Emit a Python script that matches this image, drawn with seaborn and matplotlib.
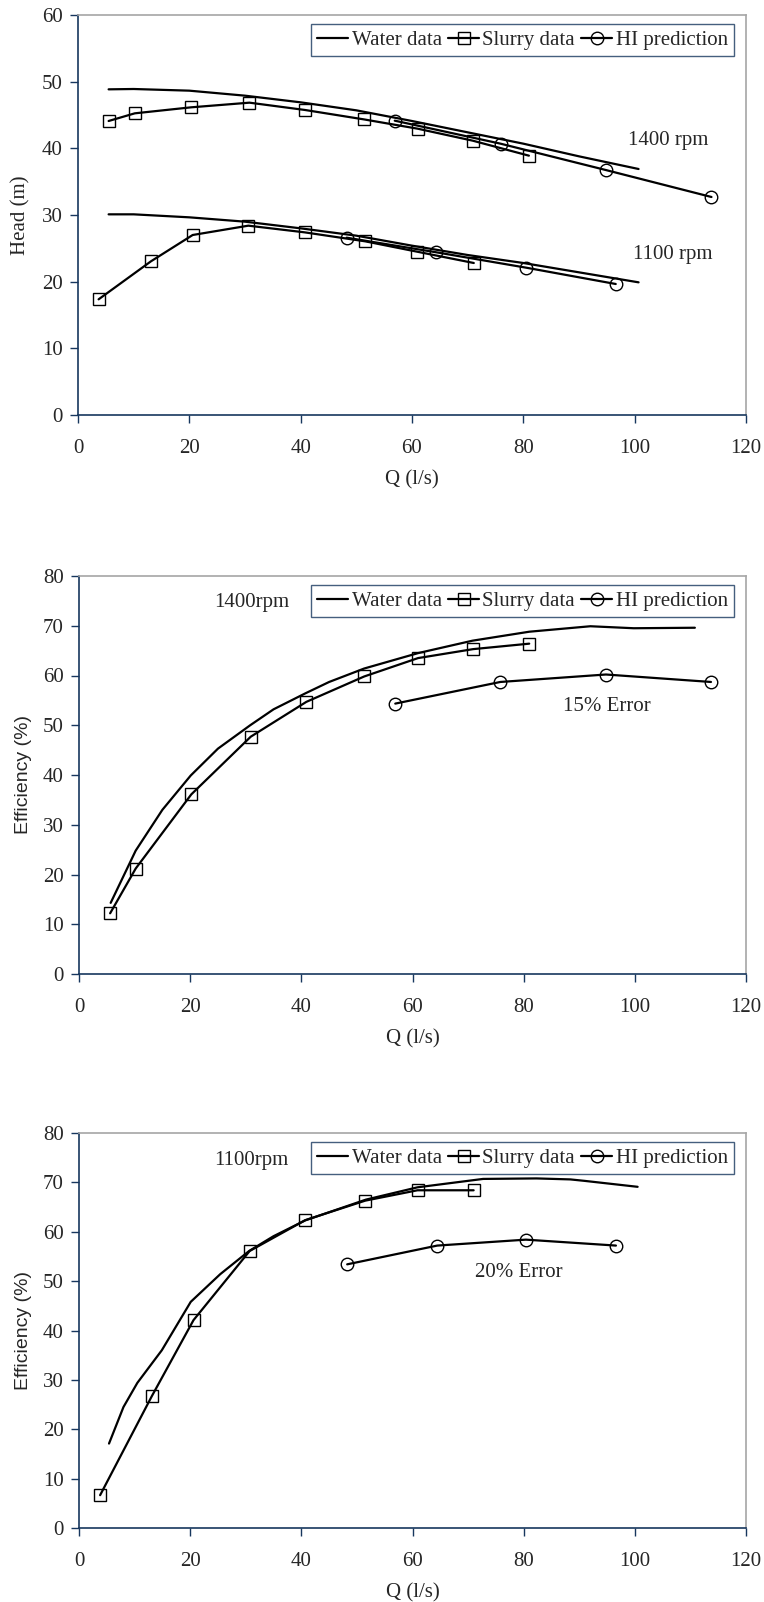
import matplotlib
matplotlib.use("Agg")
import matplotlib.pyplot as plt
import seaborn as sns
import pandas as pd
from matplotlib.lines import Line2D

# ---------------- data ----------------
# Panel 1: Head vs Q
q_water_1400 = [5.5, 10, 20, 30, 40, 50, 60, 70, 80, 90, 100.7]
h_water_1400 = [48.85, 48.9, 48.65, 47.9, 46.9, 45.7, 44.1, 42.4, 40.7, 38.8, 36.9]
q_slurry_1400 = [5.5, 10.2, 20.3, 30.8, 40.8, 51.3, 61.0, 70.9, 81.0]
h_slurry_1400 = [44.1, 45.25, 46.15, 46.85, 45.75, 44.35, 42.95, 41.15, 38.9]
q_hi_1400 = [56.9, 75.9, 94.8, 113.8]
h_hi_1400 = [44.15, 40.7, 36.75, 32.7]

q_water_1100 = [5.5, 10, 20, 30, 40, 50, 60, 70, 80, 90, 100.7]
h_water_1100 = [30.1, 30.1, 29.65, 29.0, 28.0, 26.9, 25.4, 24.0, 22.8, 21.4, 19.9]
q_slurry_1100 = [3.7, 13.1, 20.6, 30.6, 40.7, 51.6, 60.9, 71.1]
h_slurry_1100 = [17.35, 23.05, 27.0, 28.4, 27.4, 26.05, 24.5, 22.8]
q_hi_1100 = [48.25, 64.4, 80.5, 96.6]
h_hi_1100 = [26.6, 24.4, 22.1, 19.65]

# Panel 2: Efficiency at 1400 rpm
q_eff_water_1400 = [5.7, 10.2, 15, 20.1, 25, 30.8, 35, 40.7, 45, 51.3, 61.0, 70.8, 81.0, 92.0, 99.8, 110.8]
e_eff_water_1400 = [14.3, 24.8, 33.0, 39.9, 45.3, 50.0, 53.2, 56.4, 58.7, 61.4, 64.5, 67.0, 68.8, 69.9, 69.5, 69.6]
q_eff_slurry_1400 = [5.6, 10.2, 20.2, 30.9, 40.9, 51.3, 61.0, 70.9, 81.0]
e_eff_slurry_1400 = [12.2, 21.2, 36.1, 47.7, 54.7, 59.8, 63.5, 65.3, 66.4]
q_eff_hi_1400 = [56.9, 75.8, 94.8, 113.7]
e_eff_hi_1400 = [54.35, 58.7, 60.2, 58.7]

# Panel 3: Efficiency at 1100 rpm
q_eff_water_1100 = [5.4, 8, 10.5, 14.9, 20.1, 25.4, 30.6, 35.0, 40.7, 51.6, 60.9, 72.7, 82.3, 88.4, 91.0, 100.5]
e_eff_water_1100 = [17.1, 24.5, 29.4, 36.0, 45.8, 51.4, 56.1, 59.1, 62.3, 66.5, 69.0, 70.7, 70.8, 70.6, 70.3, 69.1]
q_eff_slurry_1100 = [3.8, 13.1, 20.6, 30.7, 40.7, 51.5, 60.9, 71.0]
e_eff_slurry_1100 = [6.65, 26.7, 42.1, 56.1, 62.35, 66.3, 68.4, 68.4]
q_eff_hi_1100 = [48.25, 64.45, 80.4, 96.6]
e_eff_hi_1100 = [53.4, 57.2, 58.4, 57.2]

legend_labels = ["Water data", "Slurry data", "HI prediction"]
x_ticks = [0, 20, 40, 60, 80, 100, 120]

# ---------------- style ----------------
sns.set_style("ticks")
plt.rcParams["font.family"] = ["Liberation Serif", "DejaVu Serif"]

NAVY = "#17375e"
GRAY = "#a6a6a6"
FS = 15

fig = plt.figure(figsize=(7.64, 16.02), dpi=100)
ax1 = fig.add_axes([78 / 764, 1 - 415 / 1602, 668 / 764, 400 / 1602])
ax2 = fig.add_axes([79 / 764, 1 - 974 / 1602, 667 / 764, 398 / 1602])
ax3 = fig.add_axes([79 / 764, 1 - 1528 / 1602, 667 / 764, 395 / 1602])

def draw(ax, q, v, kind):
    df = pd.DataFrame({"Q": q, "V": v})
    kw = dict(color="black", linewidth=1.6, ax=ax, legend=False, sort=False)
    if kind == "water":
        sns.lineplot(data=df, x="Q", y="V", **kw)
    elif kind == "slurry":
        sns.lineplot(data=df, x="Q", y="V", marker="s", markersize=9,
                     markerfacecolor="none", markeredgecolor="black",
                     markeredgewidth=1.0, **kw)
    else:
        sns.lineplot(data=df, x="Q", y="V", marker="o", markersize=9,
                     markerfacecolor="none", markeredgecolor="black",
                     markeredgewidth=1.0, **kw)

def style_axes(ax, ymax, ylabel, ylabel_family, ylabel_size):
    ax.set_xlim(0, 120)
    ax.set_ylim(0, ymax)
    ax.set_xticks(x_ticks)
    ax.set_yticks(list(range(0, ymax + 1, 10)))
    ax.tick_params(axis="both", direction="out", length=6, width=1,
                   color=NAVY, labelsize=FS)
    ax.tick_params(axis="x", pad=11)
    ax.tick_params(axis="y", pad=5)
    for s in ["left", "bottom"]:
        ax.spines[s].set_color(NAVY)
        ax.spines[s].set_linewidth(1.2)
    for s in ["top", "right"]:
        ax.spines[s].set_visible(True)
        ax.spines[s].set_color(GRAY)
        ax.spines[s].set_linewidth(1.2)
    ax.set_xlabel("Q (l/s)", fontsize=FS, labelpad=9)
    ax.set_ylabel(ylabel, fontsize=ylabel_size, family=ylabel_family, labelpad=8)
    handles = [
        Line2D([], [], color="black", lw=1.6),
        Line2D([], [], color="black", lw=1.6, marker="s", markersize=9,
               markerfacecolor="none", markeredgewidth=1.0),
        Line2D([], [], color="black", lw=1.6, marker="o", markersize=9,
               markerfacecolor="none", markeredgewidth=1.0),
    ]
    leg = ax.legend(handles, legend_labels, loc="upper right",
                    bbox_to_anchor=(0.982, 0.977), borderaxespad=0,
                    ncol=3, fontsize=FS, frameon=True, fancybox=False,
                    handlelength=1.5, handletextpad=0.15, columnspacing=0.3,
                    borderpad=0.3)
    leg.get_frame().set_edgecolor(NAVY)
    leg.get_frame().set_linewidth(1.0)

# Panel 1
draw(ax1, q_water_1400, h_water_1400, "water")
draw(ax1, q_slurry_1400, h_slurry_1400, "slurry")
draw(ax1, q_hi_1400, h_hi_1400, "hi")
draw(ax1, q_water_1100, h_water_1100, "water")
draw(ax1, q_slurry_1100, h_slurry_1100, "slurry")
draw(ax1, q_hi_1100, h_hi_1100, "hi")
style_axes(ax1, 60, "Head (m)", ["Liberation Serif"], FS)
ax1.text(106, 41.25, "1400 rpm", ha="center", va="center", fontsize=FS)
ax1.text(106.8, 24.15, "1100 rpm", ha="center", va="center", fontsize=FS)

# Panel 2
draw(ax2, q_eff_water_1400, e_eff_water_1400, "water")
draw(ax2, q_eff_slurry_1400, e_eff_slurry_1400, "slurry")
draw(ax2, q_eff_hi_1400, e_eff_hi_1400, "hi")
style_axes(ax2, 80, "Efficiency (%)", ["Liberation Sans"], 14)
ax2.text(31, 74.7, "1400rpm", ha="center", va="center", fontsize=FS)
ax2.text(95, 53.8, "15% Error", ha="center", va="center", fontsize=FS)

# Panel 3
draw(ax3, q_eff_water_1100, e_eff_water_1100, "water")
draw(ax3, q_eff_slurry_1100, e_eff_slurry_1100, "slurry")
draw(ax3, q_eff_hi_1100, e_eff_hi_1100, "hi")
style_axes(ax3, 80, "Efficiency (%)", ["Liberation Sans"], 14)
ax3.text(31, 74.5, "1100rpm", ha="center", va="center", fontsize=FS)
ax3.text(79.2, 51.8, "20% Error", ha="center", va="center", fontsize=FS)

fig.savefig("out.png", dpi=100)
